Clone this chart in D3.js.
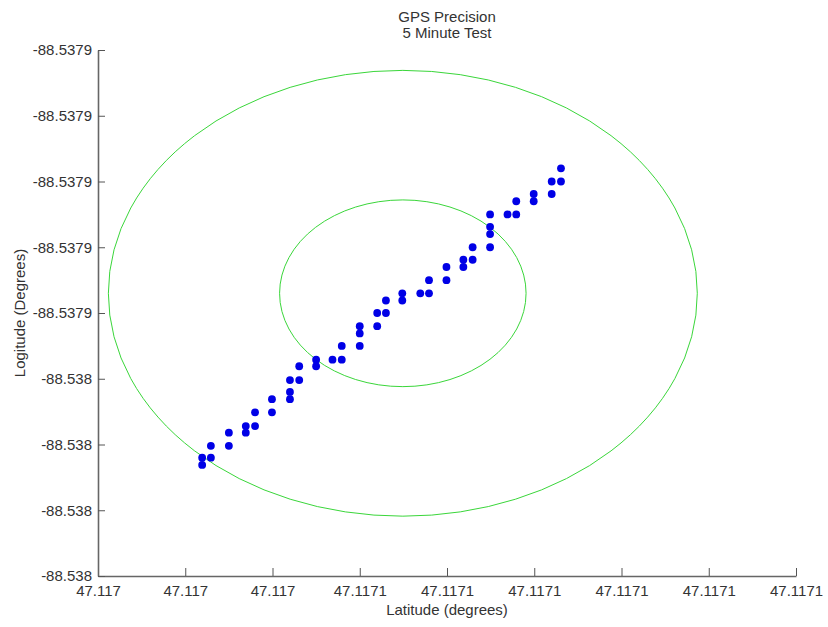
<!DOCTYPE html>
<html>
<head>
<meta charset="utf-8">
<script src="https://cdn.jsdelivr.net/npm/d3@7"></script>
<style>
  body { margin: 0; background: white; }
  text { font-family: "Liberation Sans", Arial, sans-serif; fill: #333; }
</style>
</head>
<body>
<svg id="chart" width="828" height="627"></svg>
<script>

// GPS fixes, in order (latitude on x, longitude on y)
let latitude = [
    47.1170241, 47.1170241, 47.1170257, 47.1170257, 47.1170290, 47.1170290, 47.1170321,
    47.1170321, 47.1170338, 47.1170338, 47.1170369, 47.1170369, 47.1170402, 47.1170402,
    47.1170402, 47.1170419, 47.1170419, 47.1170450, 47.1170450, 47.1170480, 47.1170497,
    47.1170497, 47.1170530, 47.1170530, 47.1170530, 47.1170562, 47.1170562, 47.1170578,
    47.1170578, 47.1170608, 47.1170608, 47.1170641, 47.1170657, 47.1170657, 47.1170689,
    47.1170689, 47.1170720, 47.1170720, 47.1170737, 47.1170737, 47.1170769, 47.1170769,
    47.1170769, 47.1170769, 47.1170801, 47.1170817, 47.1170817, 47.1170849, 47.1170849,
    47.1170882, 47.1170882, 47.1170899, 47.1170899
];
let longitude = [
    -88.5379711, -88.5379700, -88.5379700, -88.5379682, -88.5379682, -88.5379662, -88.5379662,
    -88.5379652, -88.5379652, -88.5379631, -88.5379631, -88.5379611, -88.5379611, -88.5379600,
    -88.5379582, -88.5379582, -88.5379561, -88.5379561, -88.5379551, -88.5379551, -88.5379551,
    -88.5379530, -88.5379530, -88.5379511, -88.5379500, -88.5379500, -88.5379480, -88.5379480,
    -88.5379461, -88.5379461, -88.5379450, -88.5379450, -88.5379450, -88.5379430, -88.5379430,
    -88.5379410, -88.5379410, -88.5379399, -88.5379399, -88.5379380, -88.5379380, -88.5379360,
    -88.5379349, -88.5379330, -88.5379330, -88.5379330, -88.5379310, -88.5379310, -88.5379299,
    -88.5379299, -88.5379280, -88.5379280, -88.5379260
];

// precision rings: center and half-axes (degrees)
let ringCenter = [47.1170609, -88.5379450];
let ringLatRadius = [22.6e-6, 54.0e-6];
let ringLonRadius = [14.2e-6, 33.9e-6];

let xTicks = [47.117005, 47.117021, 47.117037, 47.117053, 47.117069, 47.117085, 47.117101, 47.117117, 47.117133];
let xTickLabels = ["47.117", "47.117", "47.117", "47.1171", "47.1171", "47.1171", "47.1171", "47.1171", "47.1171"];
let yTicks = [-88.537988, -88.537978, -88.537968, -88.537958, -88.537948, -88.537938, -88.537928, -88.537918, -88.537908];
let yTickLabels = ["-88.538", "-88.538", "-88.538", "-88.538", "-88.5379", "-88.5379", "-88.5379", "-88.5379", "-88.5379"];

function makeChart(id) {
    let margins = {top: 50, right: 32, bottom: 51, left: 98};
    let width = 828, height = 627;
    let innerWidth = width - margins.left - margins.right;
    let innerHeight = height - margins.top - margins.bottom;

    let chart = d3.select("#" + id);
    chart.append("rect").attr("width", width).attr("height", height).style("fill", "white");

    let xScale = d3.scaleLinear().domain([xTicks[0], xTicks[xTicks.length - 1]]).range([0, innerWidth]);
    let yScale = d3.scaleLinear().domain([yTicks[0], yTicks[yTicks.length - 1]]).range([innerHeight, 0]);

    let plot = chart.append("g").attr("transform", `translate(${margins.left},${margins.top})`);

    // rings
    plot.selectAll(".ring").data(ringLatRadius).enter().append("ellipse").attr("class", "ring")
        .attr("cx", xScale(ringCenter[0]))
        .attr("cy", yScale(ringCenter[1]))
        .attr("rx", d => xScale(ringCenter[0] + d) - xScale(ringCenter[0]))
        .attr("ry", (d, i) => yScale(ringCenter[1]) - yScale(ringCenter[1] + ringLonRadius[i]))
        .style("fill", "none")
        .style("stroke", "#3ad63a")
        .style("stroke-width", 1);

    // fixes
    plot.selectAll(".fix").data(latitude).enter().append("circle").attr("class", "fix")
        .attr("cx", d => xScale(d))
        .attr("cy", (d, i) => yScale(longitude[i]))
        .attr("r", 3.9)
        .style("fill", "#0000e6");

    // axes
    let xAxis = plot.append("g").attr("transform", `translate(0,${innerHeight})`)
        .call(d3.axisBottom(xScale).tickValues(xTicks).tickFormat((d, i) => xTickLabels[i])
            .tickSizeInner(-8).tickSizeOuter(0).tickPadding(9));
    let yAxis = plot.append("g")
        .call(d3.axisLeft(yScale).tickValues(yTicks).tickFormat((d, i) => yTickLabels[i])
            .tickSizeInner(-7).tickSizeOuter(0).tickPadding(6));

    [xAxis, yAxis].forEach(a => {
        a.select(".domain").style("stroke", "#666").style("stroke-width", 1.6);
        a.selectAll(".tick line").style("stroke", "#555");
        a.selectAll(".tick text").style("font-size", "15px")
            .style("font-family", "'Liberation Sans', Arial, sans-serif").style("fill", "#333");
    });

    // titles
    chart.append("text").attr("x", margins.left + innerWidth / 2).attr("y", 22)
        .attr("text-anchor", "middle").style("font-size", "15px").text("GPS Precision");
    chart.append("text").attr("x", margins.left + innerWidth / 2).attr("y", 38)
        .attr("text-anchor", "middle").style("font-size", "15px").text("5 Minute Test");
    chart.append("text").attr("x", margins.left + innerWidth / 2).attr("y", 615)
        .attr("text-anchor", "middle").style("font-size", "15px").text("Latitude (degrees)");
    chart.append("text")
        .attr("transform", `translate(25,${margins.top + innerHeight / 2}) rotate(-90)`)
        .attr("text-anchor", "middle").style("font-size", "15px").text("Logitude (Degrees)");
}

makeChart("chart");
</script>
</body>
</html>
